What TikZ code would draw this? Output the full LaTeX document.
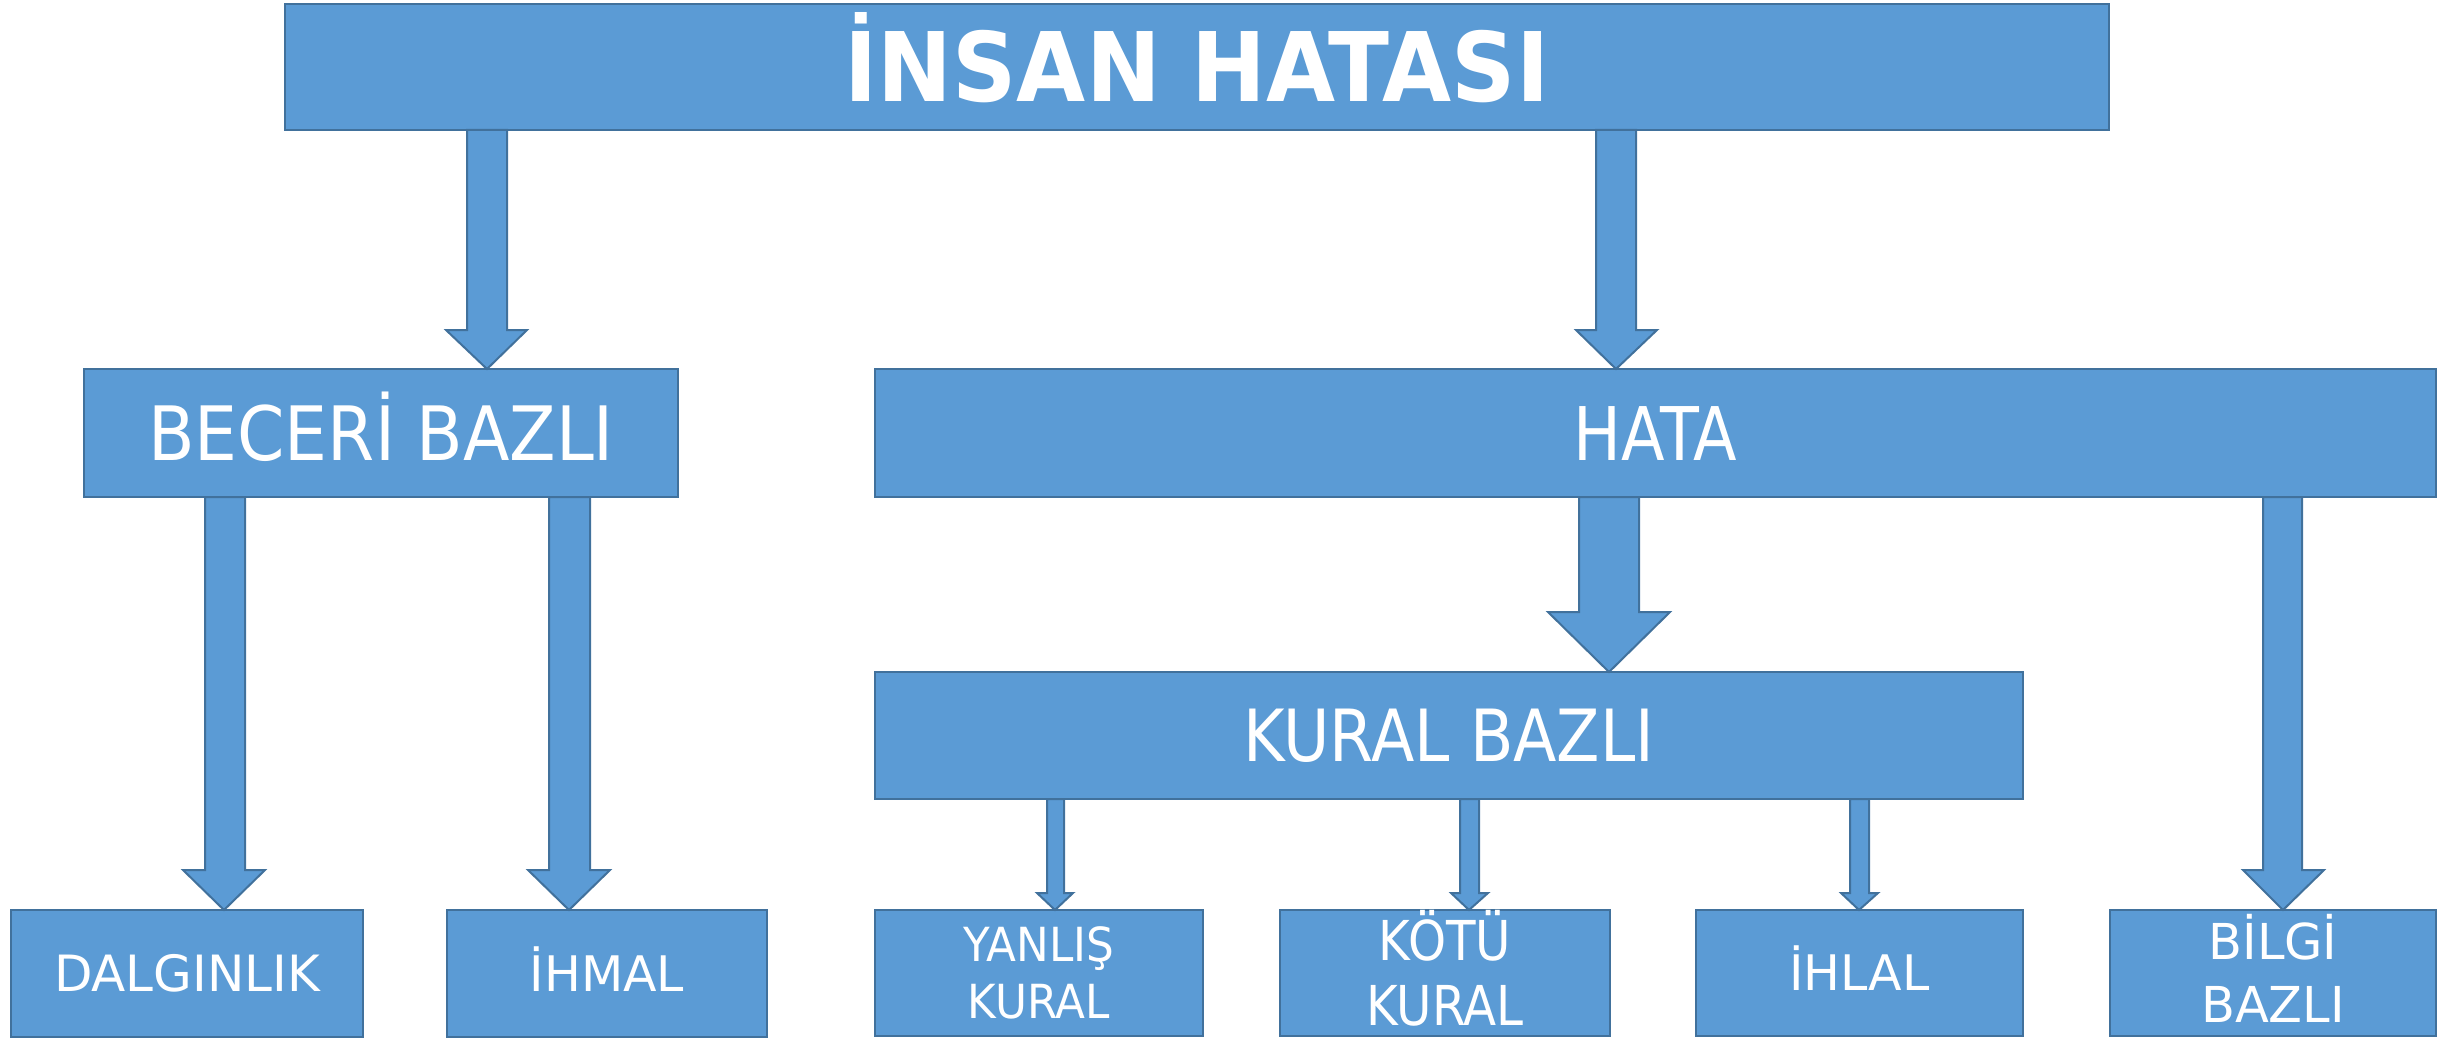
\documentclass[tikz,border=0pt]{standalone}
\usepackage{fontspec}
\usepackage{graphicx}
\setmainfont{DejaVu Sans}
\usetikzlibrary{calc}
\definecolor{fil}{HTML}{5B9BD5}
\definecolor{bdr}{HTML}{41719C}
\newcommand\sx[2]{\scalebox{#1}[1]{#2}}
\newcommand\bkarrow[8]{%
  \draw[barrow] (#3,0 |- #1.south) -- ($(#3,0 |- #2.north)+(0,-#8)$) -- ($(#5,0 |- #2.north)+(0,-#8)$)
   -- (#7,0 |- #2.north) -- ($(#6,0 |- #2.north)+(0,-#8)$) -- ($(#4,0 |- #2.north)+(0,-#8)$)
   -- (#4,0 |- #1.south) -- cycle;}
\tikzset{
  box/.style={draw=bdr, fill=fil, line width=2.5pt, inner sep=0pt, outer sep=0pt, text=white, align=center},
  barrow/.style={draw=bdr, fill=fil, line width=2pt, line join=miter},
}
\begin{document}
\begin{tikzpicture}[x=1pt,y=-1pt]
\useasboundingbox (0,0) rectangle (2453,1038);
% boxes
\node[box, minimum width=1824pt, minimum height=126pt, font=\bfseries\fontsize{96}{100}\selectfont, text height=70pt, text depth=0pt] (top) at (1197,67) {\sx{0.93}{İNSAN HATASI}};
\node[box, minimum width=594pt, minimum height=128pt, font=\fontsize{75}{80}\selectfont, text height=54pt, text depth=0pt] (beceri) at (381,433) {\sx{0.905}{BECERİ BAZLI}};
\node[box, minimum width=1561pt, minimum height=128pt, font=\fontsize{74}{80}\selectfont, text height=54pt, text depth=0pt] (hata) at (1655.5,433) {\sx{0.86}{HATA}};
\node[box, minimum width=1148pt, minimum height=127pt, font=\fontsize{72}{80}\selectfont, text height=52pt, text depth=0pt] (kural) at (1449,735.5) {\sx{0.88}{KURAL BAZLI}};
\node[box, minimum width=352pt, minimum height=127pt, font=\fontsize{50}{60}\selectfont, text height=36.5pt, text depth=0pt] (dalg) at (187,973.5) {DALGINLIK};
\node[box, minimum width=320pt, minimum height=127pt, font=\fontsize{49}{60}\selectfont, text height=36pt, text depth=0pt] (ihmal) at (607,973.5) {İHMAL};
\node[box, minimum width=328pt, minimum height=126pt, font=\fontsize{47}{57}\selectfont, text height=91pt, text depth=0pt] (yanlis) at (1039,973) {\sx{0.93}{YANLIŞ}\\\sx{0.93}{KURAL}};
\node[box, minimum width=330pt, minimum height=126pt, font=\fontsize{55}{65}\selectfont, text height=105pt, text depth=0pt] (kotu) at (1445,973) {\sx{0.88}{KÖTÜ}\\\sx{0.88}{KURAL}};
\node[box, minimum width=327pt, minimum height=126pt, font=\fontsize{49}{60}\selectfont, text height=35pt, text depth=0pt] (ihlal) at (1859.5,973) {İHLAL};
\node[box, minimum width=326pt, minimum height=126pt, font=\fontsize{49.5}{63}\selectfont, text height=99pt, text depth=0pt] (bilgi) at (2273,973) {BİLGİ\\BAZLI};
% arrows
\bkarrow{top}{beceri}{467}{507}{446}{527}{487}{39}
\bkarrow{top}{hata}{1596}{1636}{1576}{1657}{1616}{39}
\bkarrow{beceri}{dalg}{205}{245}{183}{265}{224}{40}
\bkarrow{beceri}{ihmal}{549}{590}{528}{610}{569}{40}
\bkarrow{hata}{kural}{1579}{1639}{1548}{1670}{1609}{60}
\bkarrow{kural}{yanlis}{1047}{1064}{1037}{1073}{1055}{17}
\bkarrow{kural}{kotu}{1460}{1479}{1451}{1488}{1469}{17}
\bkarrow{kural}{ihlal}{1850}{1869}{1841}{1878}{1859}{17}
\bkarrow{hata}{bilgi}{2263}{2302}{2243}{2324}{2283}{40}
\end{tikzpicture}
\end{document}
